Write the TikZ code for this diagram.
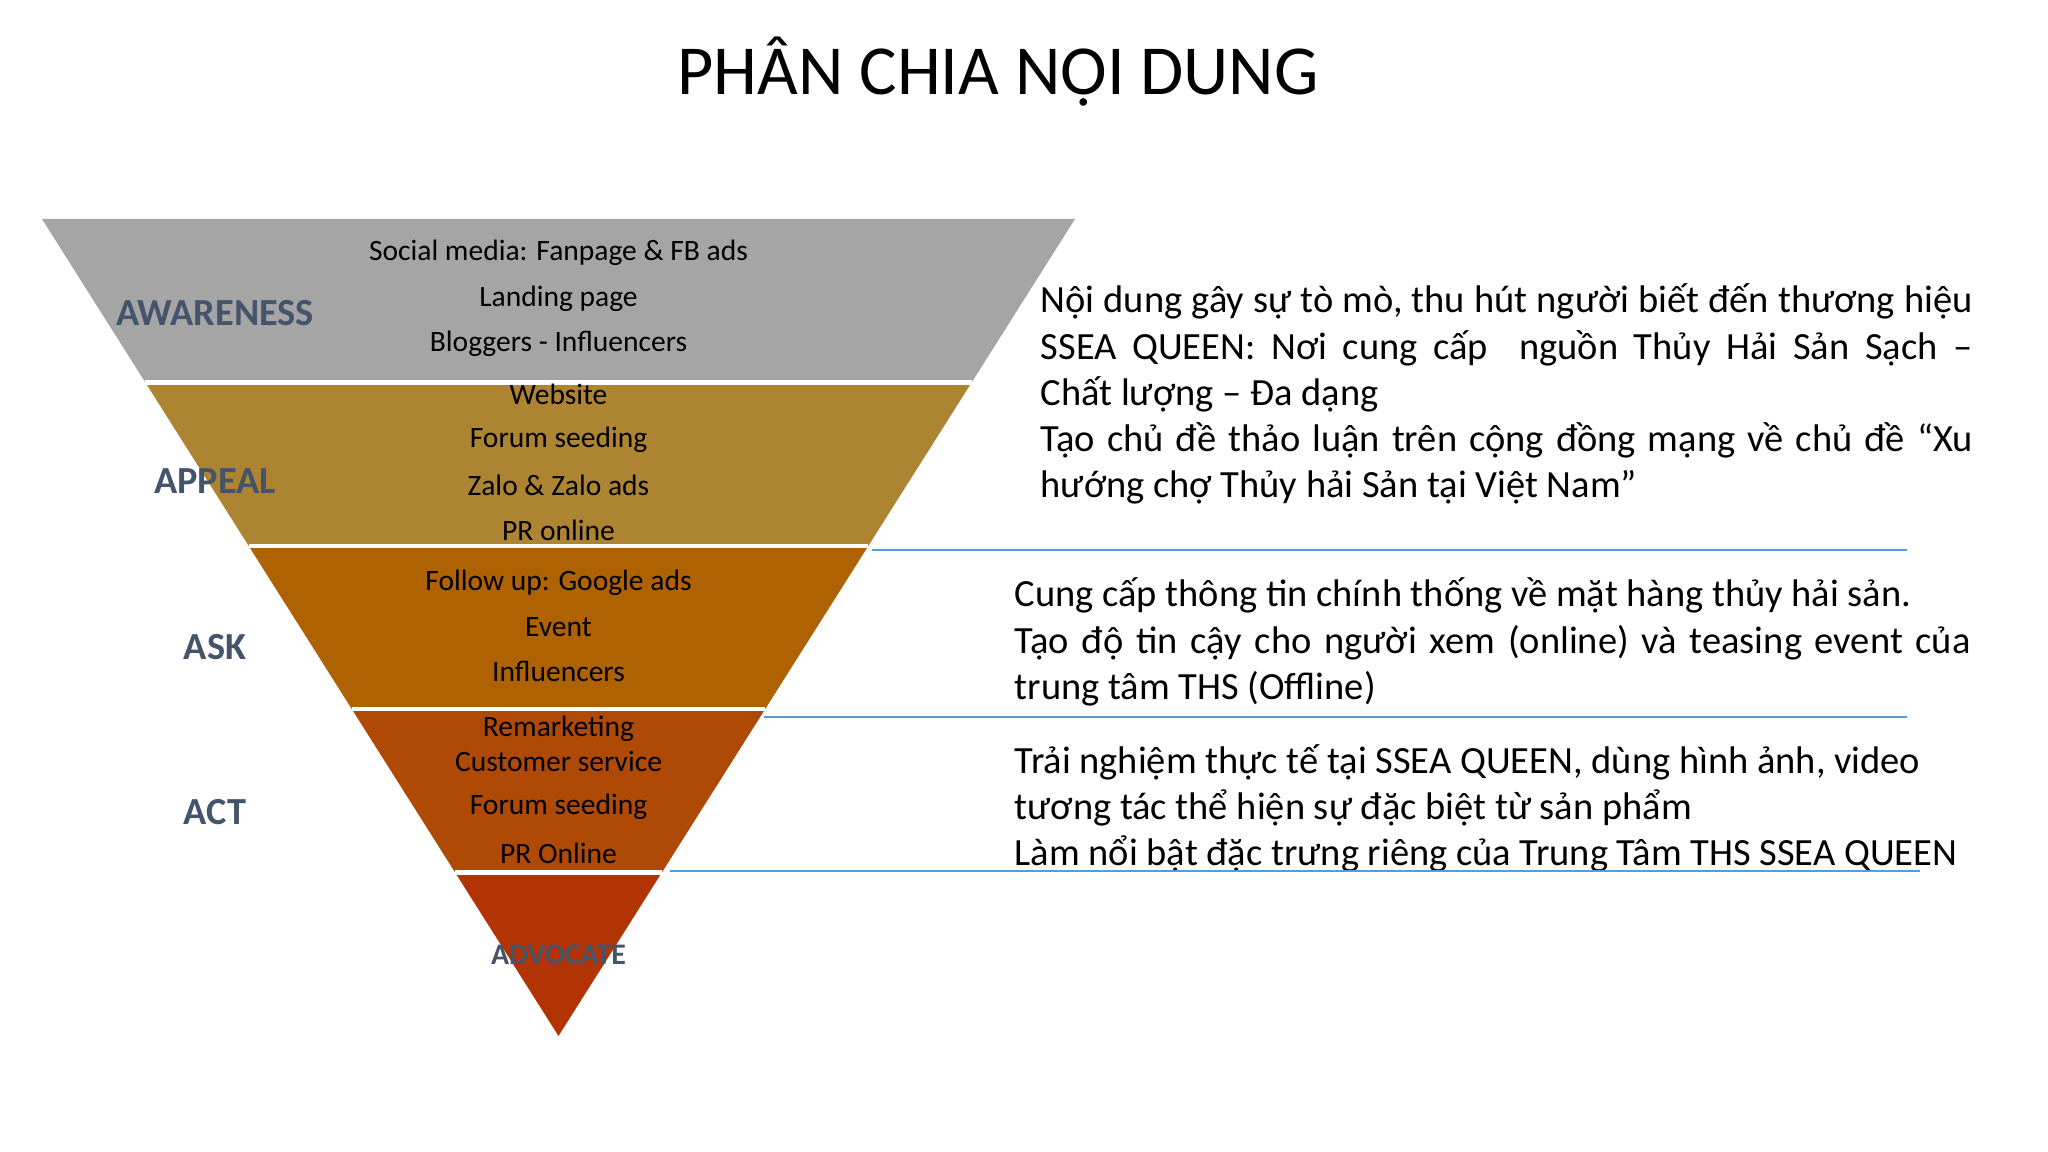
\documentclass[tikz,border=0pt]{standalone}
\usepackage{fontspec}
\setmainfont{Carlito}
\usetikzlibrary{calc}

\definecolor{awarecol}{RGB}{165,165,165}
\definecolor{appealcol}{RGB}{173,132,50}
\definecolor{askcol}{RGB}{174,98,2}
\definecolor{actcol}{RGB}{174,74,6}
\definecolor{advcol}{RGB}{178,52,4}
\definecolor{stagecol}{RGB}{68,84,106}
\definecolor{rulecol}{RGB}{91,155,213}

\begin{document}
\begin{tikzpicture}[x=1cm,y=-1cm,
    stage/.style={text=stagecol,inner sep=0pt,font=\fontsize{10.9}{13}\selectfont\bfseries},
    item/.style={inner sep=0pt,font=\fontsize{8.4}{10}\selectfont},
    note/.style={anchor=base west,inner sep=0pt,align=justify,font=\fontsize{10.95}{13.1}\selectfont},
    divider/.style={rulecol,line width=0.7pt}]
  \useasboundingbox (0,0) rectangle (20.48,11.52);

  % Title
  \node[font=\fontsize{20}{24}\selectfont,anchor=base] (title) at (9.98,0.95) {PHÂN CHIA NỘI DUNG};

  % Funnel corners
  \coordinate (tl) at (0.42,2.19);
  \coordinate (tr) at (10.75,2.19);
  \coordinate (apex) at (5.585,10.36);

  % Funnel bands
  \foreach \a/\b/\col in {0/0.2/awarecol,0.2/0.4/appealcol,0.4/0.6/askcol,0.6/0.8/actcol,0.8/1/advcol}
    \fill[\col] ($(tl)!\a!(apex)$) -- ($(tr)!\a!(apex)$) -- ($(tr)!\b!(apex)$) -- ($(tl)!\b!(apex)$) -- cycle;
  \foreach \a in {0.2,0.4,0.6,0.8}
    \draw[white,line width=1.2pt] ($(tl)!\a!(apex)$) -- ($(tr)!\a!(apex)$);

  % Channels inside the funnel
  \foreach \txt/\yy [count=\i] in {Social media: Fanpage \& FB ads/2.53,Landing page/2.99,Bloggers - Influencers/3.44,
      Website/3.94,Forum seeding/4.40,Zalo \& Zalo ads/4.85,PR online/5.30,
      Follow\ up: Google ads/5.83,Event/6.27,Influencers/6.71,
      Remarketing/7.29,Customer service/7.61,Forum seeding/8.07,PR Online/8.53}
    \node[item] (item\i) at (5.585,\yy) {\txt};

  % Stage labels
  \node[stage] (aware) at (2.15,3.13) {AWARENESS};
  \node[stage] (appeal) at (2.15,4.81) {APPEAL};
  \node[stage] (ask) at (2.15,6.47) {ASK};
  \node[stage] (act) at (2.15,8.12) {ACT};
  \node[stage,font=\fontsize{8.5}{10}\selectfont\bfseries] (advocate) at (5.585,9.55) {ADVOCATE};

  % Content notes
  \node[note,text width=9.32cm] (note1) at (10.40,3.13)
    {Nội dung gây sự tò mò, thu hút người biết đến thương hiệu\linebreak
     SSEA QUEEN: Nơi cung cấp\ \ nguồn Thủy Hải Sản Sạch –\linebreak
     Chất lượng – Đa dạng\par
     Tạo chủ đề thảo luận trên cộng đồng mạng về chủ đề “Xu\linebreak
     hướng chợ Thủy hải Sản tại Việt Nam”};
  \node[note,text width=9.56cm] (note2) at (10.14,6.07)
    {Cung cấp thông tin chính thống về mặt hàng thủy hải sản.\par
     Tạo độ tin cậy cho người xem (online) và teasing event của\linebreak
     trung tâm THS (Offline)};
  \node[note,text width=10.2cm] (note3) at (10.14,7.73)
    {Trải nghiệm\ thực tế tại SSEA QUEEN, dùng hình ảnh, video\par
     tương tác thể hiện sự đặc biệt từ sản phẩm\par
     Làm nổi bật đặc trưng riêng của Trung Tâm THS SSEA QUEEN};

  % Dividers between notes
  \coordinate (r1a) at (8.72,5.50);
  \coordinate (r1b) at (19.07,5.50);
  \coordinate (r2a) at (7.64,7.17);
  \coordinate (r2b) at (19.07,7.17);
  \coordinate (r3a) at (6.70,8.71);
  \coordinate (r3b) at (19.20,8.71);
  \draw[divider] (r1a) -- (r1b);
  \draw[divider] (r2a) -- (r2b);
  \draw[divider] (r3a) -- (r3b);
\end{tikzpicture}
\end{document}
